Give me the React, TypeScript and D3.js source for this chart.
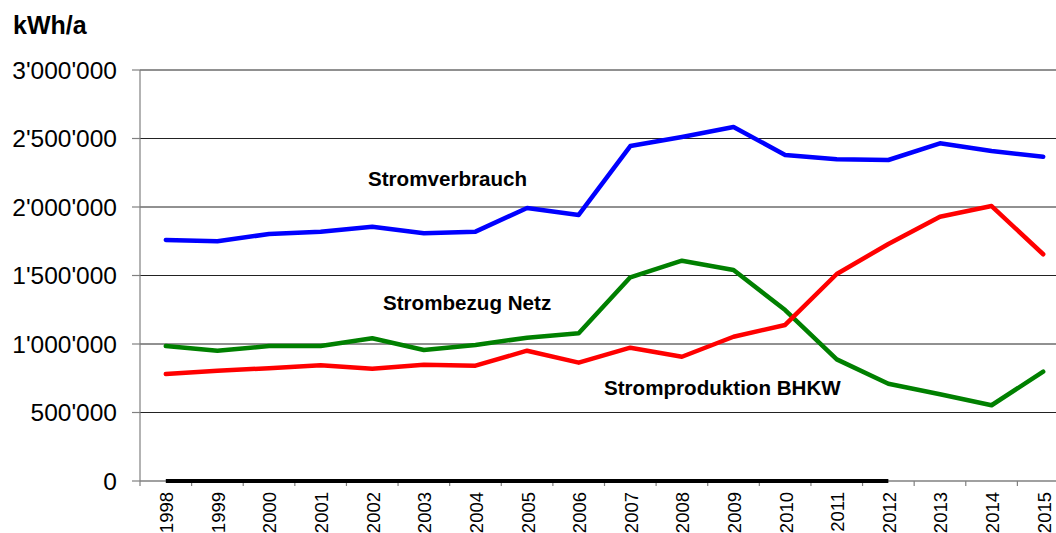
import React from "react";
import * as d3 from "d3";

const years = ["1998","1999","2000","2001","2002","2003","2004","2005","2006","2007","2008","2009","2010","2011","2012","2013","2014","2015"];
const stromverbrauch = [1759000,1750000,1803000,1820000,1856000,1808000,1820000,1993000,1942000,2445000,2511000,2584000,2380000,2348000,2343000,2465000,2409000,2367000];
const strombezugNetz = [985000,951000,985000,985000,1042000,956000,993000,1046000,1078000,1487000,1608000,1540000,1248000,888000,710000,633000,553000,798000];
const stromproduktionBHKW = [781000,805000,823000,845000,820000,849000,842000,951000,864000,973000,907000,1053000,1139000,1511000,1730000,1929000,2007000,1655000];
const nullSerie = [0,0,0,0,0,0,0,0,0,0,0,0,0,0,0];
const yTicks = [0,500000,1000000,1500000,2000000,2500000,3000000];

const W = 1056, H = 533;
const left = 140, right = 1069, top = 70, bottom = 481;

function fmt(v: number) {
  return d3.format(",")(v).replace(/,/g, "'");
}

export default function App() {
  const x = d3.scaleBand<string>().domain(years).range([left, right]).paddingInner(0).paddingOuter(0);
  const y = d3.scaleLinear().domain([0, 3000000]).range([bottom, top]);
  const cx = (i: number) => (x(years[i]) as number) + x.bandwidth() / 2;
  const line = d3.line<number>().x((_, i) => cx(i)).y((d) => y(d));
  const series = [
    { data: stromverbrauch, color: "#0000FF" },
    { data: strombezugNetz, color: "#008000" },
    { data: stromproduktionBHKW, color: "#FF0000" },
  ];
  const font = "'Liberation Sans', Arial, sans-serif";
  return (
    <svg width={W} height={H} style={{ position: "fixed", left: 0, top: 0, background: "#fff" }} fontFamily={font}>
      <rect x={0} y={0} width={W} height={H} fill="#fff" />
      {yTicks.filter((t) => t > 0).map((t) => (
        <line key={"g" + t} x1={left} x2={right} y1={y(t)} y2={y(t)} stroke="#222" strokeWidth={1} />
      ))}
      <line x1={left} x2={left} y1={top} y2={bottom} stroke="#808080" strokeWidth={1.2} />
      <line x1={left} x2={right} y1={bottom} y2={bottom} stroke="#808080" strokeWidth={1.5} />
      {yTicks.map((t) => (
        <g key={"t" + t}>
          <line x1={left - 8} x2={left} y1={y(t)} y2={y(t)} stroke="#808080" strokeWidth={1.2} />
          <text x={117} y={y(t)} dy="0.36em" textAnchor="end" fontSize={24.5} fill="#000">{fmt(t)}</text>
        </g>
      ))}
      {years.map((yr) => (
        <line key={"xt" + yr} x1={x(yr) as number} x2={x(yr) as number} y1={bottom} y2={bottom + 5} stroke="#808080" strokeWidth={1.2} />
      ))}
      <line x1={right} x2={right} y1={bottom} y2={bottom + 5} stroke="#808080" strokeWidth={1.2} />
      {years.map((yr, i) => (
        <text key={"xl" + yr} transform={`translate(${cx(i) + 0.8},${492}) rotate(-90)`} textAnchor="end" dy="0.36em" fontSize={18.5} fill="#000">{yr}</text>
      ))}
      <path d={line(nullSerie) as string} fill="none" stroke="#000" strokeWidth={4} />
      {series.map((s, k) => (
        <path key={"s" + k} d={line(s.data) as string} fill="none" stroke={s.color} strokeWidth={4.5} strokeLinejoin="round" strokeLinecap="round" />
      ))}
      <text x={368} y={186} fontSize={20.6} fontWeight="bold" fill="#000">Stromverbrauch</text>
      <text x={383} y={310} fontSize={20.6} fontWeight="bold" fill="#000">Strombezug Netz</text>
      <text x={604} y={395} fontSize={20.6} fontWeight="bold" fill="#000">Stromproduktion BHKW</text>
      <text x={13} y={34} fontSize={25} fontWeight="bold" fill="#000">kWh/a</text>
    </svg>
  );
}
